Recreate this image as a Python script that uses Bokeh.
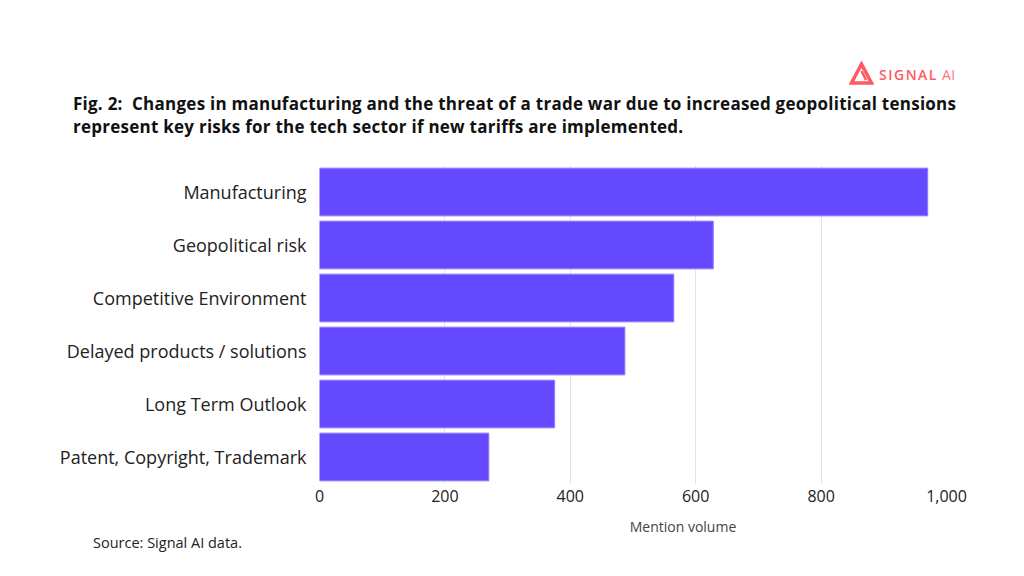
from bokeh.plotting import figure
from bokeh.models import FactorRange, Range1d, NumeralTickFormatter, FixedTicker, Div
from bokeh.layouts import column
from bokeh.embed import file_html
from bokeh.resources import INLINE

categories = ["Manufacturing", "Geopolitical risk", "Competitive Environment",
              "Delayed products / solutions", "Long Term Outlook",
              "Patent, Copyright, Trademark"]
values = [970, 628, 565, 487, 375, 270]
x_ticks = [0, 200, 400, 600, 800, 1000]

title_lines = ["Fig. 2:  Changes in manufacturing and the threat of a trade war due to increased geopolitical tensions",
               "represent key risks for the tech sector if new tariffs are implemented."]
source_text = "Source: Signal AI data."
axis_title = "Mention volume"
logo_main, logo_sub = "SIGNAL", "AI"

FONT = "Open Sans"
BAR = "#6549fe"
RED = "#ff5a5f"
W = 1016

top_html = f"""
<div style="position:relative;width:{W}px;height:145px;font-family:'{FONT}';">
  <svg style="position:absolute;left:849px;top:61px" width="25" height="25" viewBox="0 0 25 25">
    <polygon points="12.5,3 22.5,22 2.5,22" fill="none" stroke="{RED}" stroke-width="3.5" stroke-linejoin="miter"/>
    <line x1="12.5" y1="10" x2="17" y2="19" stroke="{RED}" stroke-width="2.5"/>
  </svg>
  <div style="position:absolute;left:879px;top:65px;color:{RED};font-size:14px;white-space:nowrap;">
    <span style="font-weight:600;letter-spacing:1.5px;">{logo_main}</span><span style="font-weight:400;letter-spacing:0.5px;margin-left:4px;opacity:0.85;">{logo_sub}</span>
  </div>
  <div style="position:absolute;left:73px;top:92px;font-weight:700;font-size:17px;letter-spacing:0.25px;line-height:23px;color:#111;white-space:pre;">{title_lines[0]}<br>{title_lines[1]}</div>
</div>
"""
top_div = Div(text=top_html, width=W, height=145, margin=0)

cats_rev = categories[::-1]
vals_rev = values[::-1]

p = figure(width=W, height=370, output_backend="svg", toolbar_location=None,
           y_range=FactorRange(*cats_rev, range_padding=0), x_range=Range1d(0, 1000),
           min_border_left=319, min_border_right=70, min_border_top=20, min_border_bottom=32,
           margin=0)
p.outline_line_color = None
p.hbar(y=cats_rev, right=vals_rev, left=0, height=0.9, fill_color=BAR,
       line_color="#8a78ff", line_width=1)

p.xgrid.ticker = FixedTicker(ticks=x_ticks[1:])
p.xgrid.grid_line_color = "#e3e3e3"
p.xgrid.grid_line_width = 1
p.ygrid.grid_line_color = None

p.xaxis.ticker = FixedTicker(ticks=x_ticks)
p.xaxis.formatter = NumeralTickFormatter(format="0,0")
for ax in (p.xaxis[0], p.yaxis[0]):
    ax.axis_line_color = None
    ax.major_tick_line_color = None
    ax.minor_tick_line_color = None
    ax.major_label_text_font = FONT
    ax.major_label_text_color = "#222222"
p.xaxis.major_label_text_font_size = "16px"
p.yaxis.major_label_text_font_size = "18px"
p.xaxis.major_label_standoff = 0
p.yaxis.major_label_standoff = 7

bottom_html = f"""
<div style="position:relative;width:{W}px;height:45px;font-family:'{FONT}';">
  <span style="position:absolute;left:613px;width:140px;text-align:center;top:2px;font-size:14px;color:#444;">{axis_title}</span>
  <span style="position:absolute;left:93px;top:18px;font-size:14.5px;color:#222;">{source_text}</span>
</div>
"""
bottom_div = Div(text=bottom_html, width=W, height=45, margin=0)

layout = column(top_div, p, bottom_div, spacing=0)
open("out.html", "w").write(file_html(layout, INLINE))
